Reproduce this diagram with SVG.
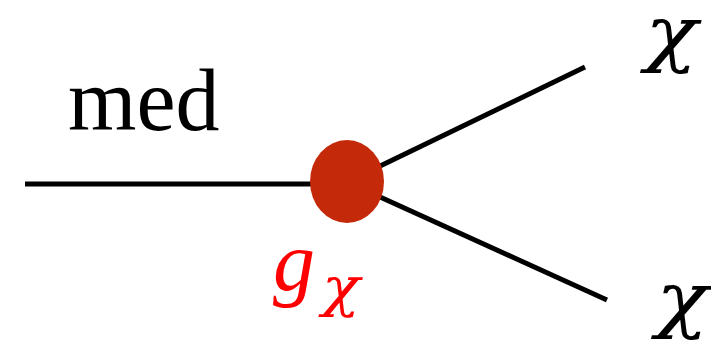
<svg xmlns="http://www.w3.org/2000/svg" width="711" height="342" viewBox="0 0 711 342">
<style>
.ln{stroke:#000;stroke-width:5;fill:none}
.t{font-family:"Liberation Serif","DejaVu Serif",serif;fill:#000}
.c{font-family:"DejaVu Serif",serif;font-style:italic;fill:#000}
.i{font-style:italic}
</style>
<rect width="711" height="342" fill="#fff"/>
<g id="connectors">
<line class="ln" x1="25" y1="184" x2="347" y2="184"/>
<line class="ln" x1="347" y1="182" x2="585" y2="67"/>
<line class="ln" x1="347" y1="182" x2="607" y2="300"/>
</g>
<g id="vertex">
<ellipse cx="347" cy="181.5" rx="37" ry="41.5" fill="#C42A0A"/>
<text class="t i" x="273" y="290" font-size="84" style="fill:#ff0000">g</text>
<text class="c" transform="translate(322,306) scale(1.2,1.05)" font-size="52" style="fill:#ff0000">χ</text>
</g>
<g id="med"><text class="t" x="68" y="130" font-size="88">med</text></g>
<g id="chi1"><text class="c" transform="translate(645,58) scale(1.2,1)" font-size="72">χ</text></g>
<g id="chi2"><text class="c" transform="translate(656,324) scale(1.2,1)" font-size="72">χ</text></g>
</svg>
